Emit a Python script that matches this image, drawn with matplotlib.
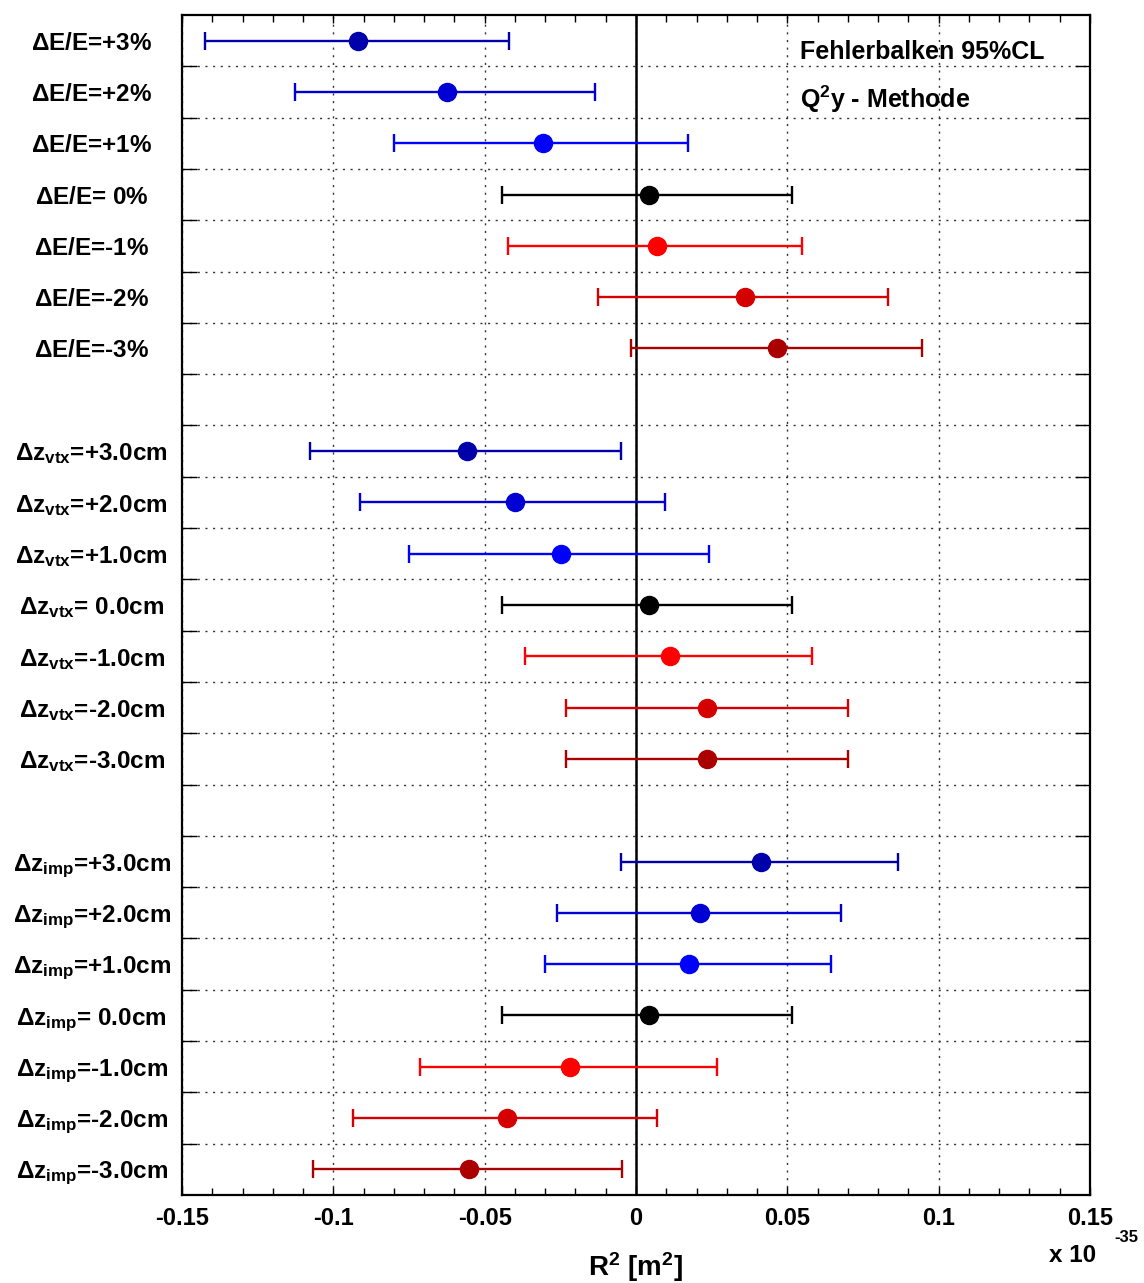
import numpy as np
import matplotlib
matplotlib.use('Agg')
import matplotlib.pyplot as plt

plt.rcParams['font.family'] = ['Liberation Sans', 'DejaVu Sans']
plt.rcParams['font.weight'] = 'bold'
plt.rcParams['mathtext.fontset'] = 'custom'
plt.rcParams['mathtext.rm'] = 'Liberation Sans'
plt.rcParams['mathtext.bf'] = 'Liberation Sans:bold'
plt.rcParams['mathtext.it'] = 'Liberation Sans:bold'

# --- data (R^2 in units of 1e-35 m^2) ---
labels_E = [r'$\Delta$E/E=+3%', r'$\Delta$E/E=+2%', r'$\Delta$E/E=+1%', r'$\Delta$E/E= 0%',
            r'$\Delta$E/E=-1%', r'$\Delta$E/E=-2%', r'$\Delta$E/E=-3%']
cen_E = [-0.0918, -0.0624, -0.0307, 0.0043, 0.0069, 0.0360, 0.0466]
lo_E = [-0.1424, -0.1127, -0.0800, -0.0443, -0.0423, -0.0126, -0.0017]
hi_E = [-0.0420, -0.0135, 0.0172, 0.0515, 0.0548, 0.0833, 0.0945]

labels_vtx = [r'$\Delta$z$_{\mathbf{vtx}}$=+3.0cm', r'$\Delta$z$_{\mathbf{vtx}}$=+2.0cm',
              r'$\Delta$z$_{\mathbf{vtx}}$=+1.0cm', r'$\Delta$z$_{\mathbf{vtx}}$= 0.0cm',
              r'$\Delta$z$_{\mathbf{vtx}}$=-1.0cm', r'$\Delta$z$_{\mathbf{vtx}}$=-2.0cm',
              r'$\Delta$z$_{\mathbf{vtx}}$=-3.0cm']
cen_vtx = [-0.0558, -0.0400, -0.0248, 0.0043, 0.0112, 0.0235, 0.0235]
lo_vtx = [-0.1077, -0.0912, -0.0750, -0.0443, -0.0367, -0.0231, -0.0231]
hi_vtx = [-0.0050, 0.0096, 0.0241, 0.0515, 0.0581, 0.0700, 0.0700]

labels_imp = [r'$\Delta$z$_{\mathbf{imp}}$=+3.0cm', r'$\Delta$z$_{\mathbf{imp}}$=+2.0cm',
              r'$\Delta$z$_{\mathbf{imp}}$=+1.0cm', r'$\Delta$z$_{\mathbf{imp}}$= 0.0cm',
              r'$\Delta$z$_{\mathbf{imp}}$=-1.0cm', r'$\Delta$z$_{\mathbf{imp}}$=-2.0cm',
              r'$\Delta$z$_{\mathbf{imp}}$=-3.0cm']
cen_imp = [0.0413, 0.0211, 0.0175, 0.0043, -0.0218, -0.0426, -0.0552]
lo_imp = [-0.0050, -0.0261, -0.0301, -0.0443, -0.0714, -0.0935, -0.1067]
hi_imp = [0.0866, 0.0677, 0.0644, 0.0515, 0.0268, 0.0069, -0.0046]

colors = ['#0000aa', '#0000d5', '#0000ff', '#000000', '#ff0000', '#d50000', '#aa0000']

groups = [(labels_E, cen_E, lo_E, hi_E),
          (labels_vtx, cen_vtx, lo_vtx, hi_vtx),
          (labels_imp, cen_imp, lo_imp, hi_imp)]

fig = plt.figure(figsize=(11.44, 12.83), dpi=100)
ax = fig.add_axes([0.1591, 0.0686, 0.7937, 0.9197])

ytick_pos = []
ytick_lab = []
for g, (labs, cen, lo, hi) in enumerate(groups):
    for i in range(len(labs)):
        y = 8 * g + i
        ytick_pos.append(y)
        ytick_lab.append(labs[i])
        ax.errorbar(cen[i], y, xerr=[[cen[i] - lo[i]], [hi[i] - cen[i]]],
                    fmt='o', color=colors[i], ms=13, elinewidth=1.7,
                    capsize=6.8, capthick=1.7, zorder=3)

ax.axvline(0, color='black', lw=1.8, zorder=2)

ax.set_xlim(-0.15, 0.15)
ax.set_ylim(22.5, -0.5)

ax.set_xticks([-0.15, -0.1, -0.05, 0, 0.05, 0.1, 0.15])
ax.set_xticklabels(['-0.15', '-0.1', '-0.05', '0', '0.05', '0.1', '0.15'])
ax.set_xticks(np.arange(-0.15, 0.1501, 0.01), minor=True)
ax.tick_params(axis='x', which='both', direction='in', top=True, bottom=True,
               labelsize=17, pad=9)
ax.tick_params(axis='x', which='major', length=6, width=1)
ax.tick_params(axis='x', which='minor', length=5, width=1)

ax.set_yticks(ytick_pos)
ax.set_yticklabels(ytick_lab)
ax.set_yticks(np.arange(0.5, 22.5, 1.0), minor=True)
ax.tick_params(axis='y', which='major', length=0, pad=65, labelsize=17.5)
ax.tick_params(axis='y', which='minor', direction='in', left=True, right=True,
               length=11, width=1)
for t in ax.get_yticklabels():
    t.set_horizontalalignment('center')

ax.grid(True, axis='x', which='major', linestyle=(0, (1.5, 4)), color='#333333', lw=1)
ax.grid(True, axis='y', which='minor', linestyle=(0, (1.5, 4)), color='#333333', lw=1)
ax.set_axisbelow(True)

for sp in ax.spines.values():
    sp.set_linewidth(1.6)

ax.text(0.6806, 0.9686, 'Fehlerbalken 95%CL', transform=ax.transAxes,
        fontsize=18, fontweight='bold', va='center', ha='left')
ax.text(0.6806, 0.9288, r'Q$^{\mathbf{2}}$y - Methode', transform=ax.transAxes,
        fontsize=18, fontweight='bold', va='center', ha='left')

ax.set_xlabel(r'R$^{\mathbf{2}}$ [m$^{\mathbf{2}}$]', fontsize=20, fontweight='bold', labelpad=14)
fig.text(1096 / 1144, 1 - 1255 / 1283, 'x 10', fontsize=17.5, fontweight='bold',
         ha='right', va='center')
fig.text(1114 / 1144, 1 - 1238 / 1283, '-35', fontsize=12, fontweight='bold',
         ha='left', va='center')

fig.savefig('out.png', dpi=100)
